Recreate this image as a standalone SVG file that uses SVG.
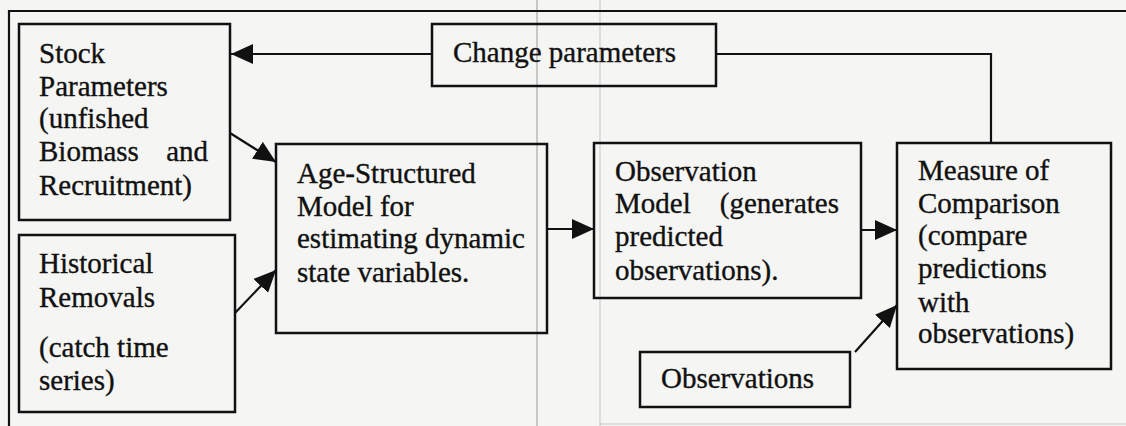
<svg xmlns="http://www.w3.org/2000/svg" width="1126" height="426" viewBox="0 0 1126 426">
<style>
.box{fill:none;stroke:#111;stroke-width:2.5}
.frame{fill:none;stroke:#111;stroke-width:2.2}
.con{fill:none;stroke:#111;stroke-width:2.2}
.t{font-family:"Liberation Serif","Times New Roman",serif;font-size:29px;fill:#111;stroke:#111;stroke-width:0.35}
.scan{stroke:#9a9a9a;stroke-width:1}
</style>
<defs>
<marker id="ah" markerUnits="userSpaceOnUse" markerWidth="22" markerHeight="20" refX="22" refY="10" orient="auto">
<path d="M0,0 L22,10 L0,20 Z" fill="#111"/>
</marker>
</defs>
<rect x="0" y="0" width="1126" height="426" fill="#f5f5f3"/>
<line class="scan" x1="537" y1="0" x2="537" y2="426"/>
<line class="scan" x1="600" y1="0" x2="600" y2="426" stroke-opacity="0.5"/>
<line class="scan" x1="600" y1="424" x2="1126" y2="424" stroke-opacity="0.5"/>
<path class="frame" d="M9,426 L9,11 L1126,11"/>

<g id="stock">
<rect class="box" x="19" y="24" width="211" height="196"/>
<text class="t" x="39" y="63">Stock</text>
<text class="t" x="39" y="96">Parameters</text>
<text class="t" x="39" y="128">(unfished</text>
<text class="t" y="161"><tspan x="39">Biomass</tspan><tspan x="208" text-anchor="end">and</tspan></text>
<text class="t" x="39" y="195">Recruitment)</text>
</g>

<g id="historical">
<rect class="box" x="19" y="235" width="216" height="177"/>
<text class="t" x="39" y="273">Historical</text>
<text class="t" x="39" y="307">Removals</text>
<text class="t" x="39" y="357">(catch time</text>
<text class="t" x="39" y="390">series)</text>
</g>

<g id="change">
<rect class="box" x="432" y="24" width="284" height="62"/>
<text class="t" x="453" y="62">Change parameters</text>
</g>

<g id="age">
<rect class="box" x="276" y="144" width="271" height="189"/>
<text class="t" x="297" y="183">Age-Structured</text>
<text class="t" x="297" y="216">Model for</text>
<text class="t" x="297" y="248">estimating dynamic</text>
<text class="t" x="297" y="282">state variables.</text>
</g>

<g id="obsmodel">
<rect class="box" x="594" y="143" width="267" height="155"/>
<text class="t" x="615" y="181">Observation</text>
<text class="t" y="213"><tspan x="615">Model</tspan><tspan x="839" text-anchor="end">(generates</tspan></text>
<text class="t" x="615" y="246">predicted</text>
<text class="t" x="615" y="280">observations).</text>
</g>

<g id="measure">
<rect class="box" x="897" y="143" width="214" height="226"/>
<text class="t" x="918" y="180">Measure of</text>
<text class="t" x="918" y="213">Comparison</text>
<text class="t" x="918" y="245">(compare</text>
<text class="t" x="918" y="278">predictions</text>
<text class="t" x="918" y="312">with</text>
<text class="t" x="918" y="343">observations)</text>
</g>

<g id="observations">
<rect class="box" x="640" y="352" width="210" height="55"/>
<text class="t" x="661" y="388">Observations</text>
</g>

<g id="connectors">
<line class="con" x1="432" y1="54" x2="231" y2="54" marker-end="url(#ah)"/>
<polyline class="con" points="716,54 991,54 991,143"/>
<line class="con" x1="230" y1="133" x2="276" y2="162" marker-end="url(#ah)"/>
<line class="con" x1="235" y1="313" x2="276" y2="270" marker-end="url(#ah)"/>
<line class="con" x1="547" y1="229" x2="594" y2="229" marker-end="url(#ah)"/>
<line class="con" x1="861" y1="230" x2="897" y2="230" marker-end="url(#ah)"/>
<line class="con" x1="855" y1="352" x2="897" y2="305" marker-end="url(#ah)"/>
</g>
</svg>
